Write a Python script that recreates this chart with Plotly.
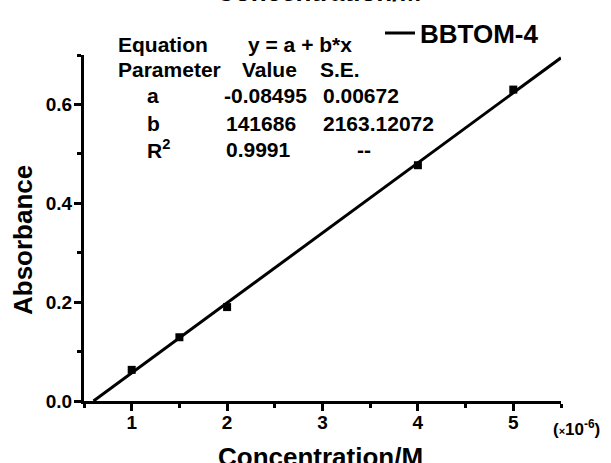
import plotly.graph_objects as go

# ---- data (x in units of 1e-6 M) ----
conc = [1.0, 1.5, 2.0, 4.0, 5.0]
absorbance = [0.063, 0.129, 0.190, 0.477, 0.630]
fit_a = -0.08495
fit_b_scaled = 0.141686   # b = 141686 per M -> per 1e-6 M
x_max = 5.5
table_rows = [
    ["Equation", "y = a + b*x", ""],
    ["Parameter", "Value", "S.E."],
    ["a", "-0.08495", "0.00672"],
    ["b", "141686", "2163.12072"],
    ["R<sup>2</sup>", "0.9991", "--"],
]
series_name = "BBTOM-4"
x_title = "Concentration/M"
y_title = "Absorbance"

W, H = 611, 463
L, R, T, B = 84, 50, 55, 62
PW, PH = W - L - R, H - T - B

def px(xp):
    return (xp - L) / PW

def py(yp):
    return (H - B - yp) / PH

FONT = "Arial, Liberation Sans, sans-serif"

fig = go.Figure()

x0 = -fit_a / fit_b_scaled
fit_x = [x0, x_max]
fit_y = [fit_a + fit_b_scaled * v for v in fit_x]
fig.add_trace(go.Scatter(x=fit_x, y=fit_y, mode="lines", name=series_name,
                         line=dict(color="black", width=3), showlegend=True))
fig.add_trace(go.Scatter(x=conc, y=absorbance, mode="markers", showlegend=False,
                         marker=dict(symbol="square", size=8, color="black")))

axis_common = dict(showline=True, linecolor="black", linewidth=3, mirror=False,
                   ticks="outside", tickcolor="black", tickwidth=3, ticklen=7,
                   showgrid=False, zeroline=False, automargin=False,
                   tickfont=dict(family=FONT, size=19, color="black", weight="bold"))

fig.update_xaxes(range=[0.5, 5.5], tick0=0, dtick=1,
                 ticklabelstandoff=-5,
                 minor=dict(ticks="outside", ticklen=4, tickwidth=3, tickcolor="black",
                            dtick=0.5, tick0=0.5, showgrid=False),
                 **axis_common)
fig.update_yaxes(range=[0, 0.7], tick0=0, dtick=0.2, tickformat=".1f",
                 ticklabelstandoff=-2,
                 minor=dict(ticks="outside", ticklen=4, tickwidth=3, tickcolor="black",
                            dtick=0.1, tick0=0, showgrid=False),
                 **axis_common)

anns = []
row_y = [44, 70, 96, 123, 149]
col_x_rows = [
    [116, 246, None],
    [116, 240, 318],
    [145, 222, 321],
    [145, 224, 321],
    [145, 224, 355],
]
for r, row in enumerate(table_rows):
    for c, txt in enumerate(row):
        if not txt:
            continue
        anns.append(dict(x=px(col_x_rows[r][c]), y=py(row_y[r]), xref="paper", yref="paper",
                         text=txt, showarrow=False, xanchor="left", yanchor="middle",
                         font=dict(family=FONT, size=21, color="black", weight="bold")))
# x multiplier
anns.append(dict(x=px(551), y=py(428), xref="paper", yref="paper",
                 text="(<span style='font-size:11px'>×</span>10<sup>-6</sup>)",
                 showarrow=False, xanchor="left", yanchor="middle",
                 font=dict(family=FONT, size=17, color="black", weight="bold")))
# axis titles
anns.append(dict(x=px(320), y=py(457), xref="paper", yref="paper",
                 text=x_title, showarrow=False, xanchor="center", yanchor="middle",
                 font=dict(family=FONT, size=26, color="black", weight="bold")))
anns.append(dict(x=px(23), y=py(240), xref="paper", yref="paper",
                 text=y_title, showarrow=False, xanchor="center", yanchor="middle",
                 textangle=-90,
                 font=dict(family=FONT, size=26, color="black", weight="bold")))
# top title (clipped at top of image)
anns.append(dict(x=px(318), y=py(-8), xref="paper", yref="paper",
                 text=x_title, showarrow=False, xanchor="center", yanchor="middle",
                 font=dict(family=FONT, size=26, color="black", weight="bold")))

fig.update_layout(
    width=W, height=H,
    margin=dict(l=L, r=R, t=T, b=B, pad=0, autoexpand=False),
    plot_bgcolor="white", paper_bgcolor="white",
    annotations=anns,
    legend=dict(x=px(380), y=py(33), xref="paper", yref="paper", xanchor="left", yanchor="middle",
                bgcolor="rgba(0,0,0,0)", borderwidth=0, itemwidth=30,
                font=dict(family=FONT, size=26, color="black", weight="bold")),
)

fig.write_html("out.html", config={"displayModeBar": False},
               post_script="document.body.style.margin='0';")
